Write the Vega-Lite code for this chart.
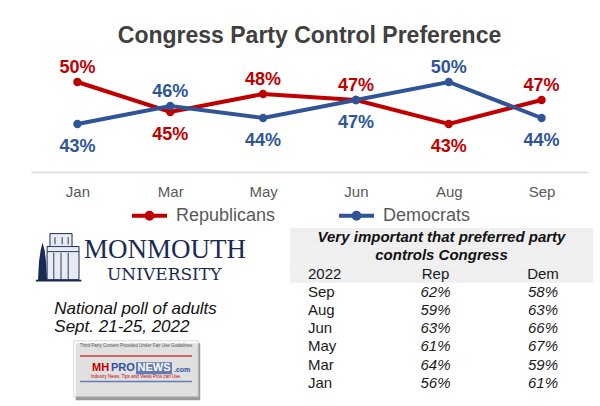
{
  "$schema": "https://vega.github.io/schema/vega-lite/v6.json",
  "background": "white",
  "padding": {"left": 31, "top": 25, "right": 0, "bottom": 0},
  "config": {"view": {"stroke": null}, "font": "Liberation Sans", "concat": {"spacing": 1}},
  "resolve": {"scale": {"color": "independent"}, "legend": {"color": "independent"}},
  "datasets": {
    "poll": [
      {"month": "Jan", "party": "Republicans", "value": 50},
      {"month": "Jan", "party": "Democrats", "value": 43},
      {"month": "Mar", "party": "Republicans", "value": 45},
      {"month": "Mar", "party": "Democrats", "value": 46},
      {"month": "May", "party": "Republicans", "value": 48},
      {"month": "May", "party": "Democrats", "value": 44},
      {"month": "Jun", "party": "Republicans", "value": 47},
      {"month": "Jun", "party": "Democrats", "value": 47},
      {"month": "Aug", "party": "Republicans", "value": 43},
      {"month": "Aug", "party": "Democrats", "value": 50},
      {"month": "Sep", "party": "Republicans", "value": 47},
      {"month": "Sep", "party": "Democrats", "value": 44}
    ],
    "importance": [
      {"row": "Sep", "rep": 0.62, "dem": 0.58},
      {"row": "Aug", "rep": 0.59, "dem": 0.63},
      {"row": "Jun", "rep": 0.63, "dem": 0.66},
      {"row": "May", "rep": 0.61, "dem": 0.67},
      {"row": "Mar", "rep": 0.64, "dem": 0.59},
      {"row": "Jan", "rep": 0.56, "dem": 0.61}
    ],
    "caption": [
      {"row": "Very important that preferred party"},
      {"row": "controls Congress"}
    ],
    "header": [
      {"row": "2022", "column": "label", "text": "2022"},
      {"row": "2022", "column": "rep", "text": "Rep"},
      {"row": "2022", "column": "dem", "text": "Dem"}
    ],
    "source": [
      {"university": "MONMOUTH", "sub": "UNIVERSITY", "note": "National poll of adults\nSept. 21-25, 2022",
       "mh": "MH", "pro": "PRO", "news": "NEWS", "dom": ".com",
       "fair": "Third Party Content Provided Under Fair Use Guidelines",
       "tag": "Industry News, Tips and Views Pros can Use."}
    ]
  },
  "vconcat": [
    {
      "width": 557,
      "height": 120,
      "data": {"name": "poll"},
      "title": {"text": "Congress Party Control Preference", "fontSize": 23, "fontWeight": "bold", "color": "#404040", "offset": 4, "anchor": "middle"},
      "encoding": {
        "x": {
          "field": "month", "type": "ordinal",
          "sort": ["Jan", "Mar", "May", "Jun", "Aug", "Sep"],
          "scale": {"type": "point", "padding": 0.5},
          "axis": {"title": null, "domainColor": "#d9d9d9", "domainWidth": 1.5, "ticks": false, "tickSize": 0, "labelPadding": 12, "labelFontSize": 15, "labelColor": "#595959", "labelAngle": 0, "grid": false}
        },
        "y": {"field": "value", "type": "quantitative", "scale": {"domain": [35, 55], "zero": false, "nice": false}, "axis": null},
        "color": {
          "field": "party", "type": "nominal",
          "scale": {"domain": ["Republicans", "Democrats"], "range": ["#C00000", "#2F5597"]},
          "legend": {
            "orient": "none", "legendX": 99, "legendY": 144, "direction": "horizontal", "title": null,
            "labelFontSize": 18, "labelColor": "#595959",
            "symbolType": "M-1,0H1M-0.17,0A0.17,0.17,0,1,1,0.17,0A0.17,0.17,0,1,1,-0.17,0Z",
            "symbolSize": 1225, "symbolStrokeWidth": 4, "labelOffset": 7, "columnPadding": 55,
            "encode": {"symbols": {"update": {"fill": {"scale": "color", "field": "value"}, "stroke": {"scale": "color", "field": "value"}}}}
          }
        }
      },
      "layer": [
        {"mark": {"type": "line", "strokeWidth": 4, "point": {"filled": true, "size": 70, "opacity": 1}}},
        {
          "transform": [
            {"joinaggregate": [{"op": "max", "field": "value", "as": "hi"}, {"op": "min", "field": "value", "as": "lo"}], "groupby": ["month"]},
            {"calculate": "datum.value + '%'", "as": "label"},
            {"filter": "datum.value == datum.hi && (datum.value > datum.lo || datum.party == 'Republicans')"}
          ],
          "mark": {"type": "text", "fontSize": 18, "fontWeight": "bold", "baseline": "alphabetic", "dy": -9},
          "encoding": {"text": {"field": "label"}}
        },
        {
          "transform": [
            {"joinaggregate": [{"op": "max", "field": "value", "as": "hi"}, {"op": "min", "field": "value", "as": "lo"}], "groupby": ["month"]},
            {"calculate": "datum.value + '%'", "as": "label"},
            {"filter": "!(datum.value == datum.hi && (datum.value > datum.lo || datum.party == 'Republicans'))"}
          ],
          "mark": {"type": "text", "fontSize": 18, "fontWeight": "bold", "baseline": "alphabetic", "dy": 28},
          "encoding": {"text": {"field": "label"}}
        }
      ]
    },
    {
      "spacing": 10,
      "hconcat": [
        {
          "width": 249,
          "height": 164,
          "data": {"name": "source"},
          "layer": [
            {"mark": {"type": "point", "filled": true, "fill": "#e8ebf2", "stroke": "#1B2A52", "strokeWidth": 1, "opacity": 1, "size": 2304, "xOffset": -94.5, "yOffset": -52.4,
              "shape": "M-0.58,0.92V-0.46H-0.46V-1H0.46V-0.46H0.75V0.92Z"}},
            {"mark": {"type": "point", "filled": false, "color": "#1B2A52", "strokeWidth": 1, "opacity": 0.9, "size": 2304, "xOffset": -94.5, "yOffset": -52.4,
              "shape": "M-0.3,-0.2V0.9M0,-0.2V0.9M0.3,-0.2V0.9M-0.25,-0.85V-0.55M0.05,-0.85V-0.55M0.3,-0.85V-0.55M-0.58,-0.25H0.75M-0.46,-0.46H0.46"}},
            {"mark": {"type": "point", "filled": true, "color": "#1B2A52", "opacity": 1, "size": 2304, "xOffset": -94.5, "yOffset": -52.4,
              "shape": "M-0.96,0.98L-0.92,0.2L-0.85,-0.3L-0.77,-0.63L-0.68,-0.3L-0.62,0.2L-0.58,0.98ZM-1.05,0.92H0.85V1H-1.05Z"}},
            {"mark": {"type": "text", "font": "Liberation Serif", "fontSize": 27, "color": "#1B2A52", "align": "center", "baseline": "alphabetic", "dx": 9.5, "dy": -51.7},
             "encoding": {"text": {"field": "university"}}},
            {"mark": {"type": "text", "font": "DejaVu Serif", "fontSize": 17, "color": "#1B2A52", "align": "center", "baseline": "alphabetic", "dx": 8.7, "dy": -30.5},
             "encoding": {"text": {"field": "sub"}}},
            {"mark": {"type": "text", "fontSize": 17, "fontStyle": "italic", "color": "#111111", "align": "left", "baseline": "alphabetic", "dx": -101.2, "dy": 4.3, "lineBreak": "\n", "lineHeight": 18},
             "encoding": {"text": {"field": "note"}}},
            {"mark": {"type": "point", "filled": true, "color": "#6e6e6e", "size": 15500, "xOffset": -17.5, "yOffset": 61.8,
              "shape": "M-1,-0.459H1V0.459H-1Z"}},
            {"mark": {"type": "point", "filled": true, "color": "#ffffff", "stroke": "#c8c8c8", "strokeWidth": 1, "size": 15500, "xOffset": -19.5, "yOffset": 58.8,
              "shape": "M-1,-0.45H1V0.45H-1Z"}},
            {"mark": {"type": "point", "filled": false, "color": "#C00000", "strokeWidth": 1.5, "size": 12544, "xOffset": -19.5, "yOffset": 45.9, "shape": "M-1,0H1"}},
            {"mark": {"type": "point", "filled": false, "color": "#2F4FA0", "strokeWidth": 1.5, "size": 12544, "xOffset": -19.5, "yOffset": 71.6, "shape": "M-1,0H1"}},
            {"mark": {"type": "point", "filled": true, "color": "#2F4FA0", "size": 1296, "xOffset": -1.5, "yOffset": 58.3, "shape": "M-1,-0.33H1V0.33H-1Z"}},
            {"mark": {"type": "text", "fontSize": 4.5, "color": "#555555", "align": "center", "baseline": "middle", "dx": -19.5, "dy": 36},
             "encoding": {"text": {"field": "fair"}}},
            {"mark": {"type": "text", "fontSize": 4.5, "color": "#C00000", "align": "center", "baseline": "middle", "dx": -19.5, "dy": 67},
             "encoding": {"text": {"field": "tag"}}},
            {"mark": {"type": "text", "fontSize": 11, "fontWeight": "bold", "color": "#C00000", "align": "left", "baseline": "middle", "dx": -63.5, "dy": 58.3},
             "encoding": {"text": {"field": "mh"}}},
            {"mark": {"type": "text", "fontSize": 11, "fontWeight": "bold", "color": "#2F4FA0", "align": "left", "baseline": "middle", "dx": -44.5, "dy": 58.3},
             "encoding": {"text": {"field": "pro"}}},
            {"mark": {"type": "text", "fontSize": 11, "fontWeight": "bold", "color": "#ffffff", "align": "center", "baseline": "middle", "dx": -1.5, "dy": 58.3},
             "encoding": {"text": {"field": "news"}}},
            {"mark": {"type": "text", "fontSize": 7, "fontWeight": "bold", "color": "#2F4FA0", "align": "left", "baseline": "middle", "dx": 18.5, "dy": 59.5},
             "encoding": {"text": {"field": "dom"}}}
          ]
        },
        {
          "width": 303,
          "height": 164,
          "encoding": {
            "y": {
              "field": "row", "type": "nominal", "sort": null,
              "scale": {"type": "band", "paddingInner": 0, "paddingOuter": 0,
                "domain": ["Very important that preferred party", "controls Congress", "2022", "Sep", "Aug", "Jun", "May", "Mar", "Jan"]},
              "axis": null
            }
          },
          "layer": [
            {"data": {"name": "caption"}, "mark": {"type": "rect", "color": "#efefef"},
             "encoding": {"x": {"value": 0}, "x2": {"value": "width"}}},
            {"data": {"name": "header"}, "transform": [{"filter": "datum.column == 'label'"}], "mark": {"type": "rect", "color": "#efefef"},
             "encoding": {"x": {"value": 0}, "x2": {"value": "width"}}},
            {"data": {"name": "caption"}, "mark": {"type": "text", "fontSize": 15, "fontWeight": "bold", "fontStyle": "italic", "color": "#111111", "align": "center", "baseline": "middle"},
             "encoding": {"text": {"field": "row"}}},
            {"data": {"name": "header"}, "transform": [{"filter": "datum.column != 'label'"}],
             "mark": {"type": "text", "fontSize": 15, "color": "#1a1a1a", "align": "center", "baseline": "middle"},
             "encoding": {
               "x": {"field": "column", "type": "nominal", "scale": {"type": "point", "domain": ["label", "rep", "dem"], "padding": 0.4093, "align": 0.4318}, "axis": null},
               "text": {"field": "text"}
             }},
            {"data": {"name": "header"}, "transform": [{"filter": "datum.column == 'label'"}],
             "mark": {"type": "text", "fontSize": 15, "color": "#1a1a1a", "align": "left", "baseline": "middle", "dx": -20},
             "encoding": {
               "x": {"field": "column", "type": "nominal", "scale": {"type": "point", "domain": ["label", "rep", "dem"], "padding": 0.4093, "align": 0.4318}, "axis": null},
               "text": {"field": "text"}
             }},
            {"data": {"name": "importance"},
             "mark": {"type": "text", "fontSize": 15, "color": "#1a1a1a", "align": "left", "baseline": "middle", "dx": -20},
             "encoding": {
               "x": {"datum": "label", "type": "nominal", "scale": {"type": "point", "domain": ["label", "rep", "dem"], "padding": 0.4093, "align": 0.4318}, "axis": null},
               "text": {"field": "row"}
             }},
            {"data": {"name": "importance"},
             "transform": [{"fold": ["rep", "dem"], "as": ["column", "pct"]}],
             "mark": {"type": "text", "fontSize": 15, "fontStyle": "italic", "color": "#1a1a1a", "align": "center", "baseline": "middle"},
             "encoding": {
               "x": {"field": "column", "type": "nominal", "scale": {"type": "point", "domain": ["label", "rep", "dem"], "padding": 0.4093, "align": 0.4318}, "axis": null},
               "text": {"field": "pct", "type": "quantitative", "format": ".0%"}
             }}
          ]
        }
      ]
    }
  ]
}
